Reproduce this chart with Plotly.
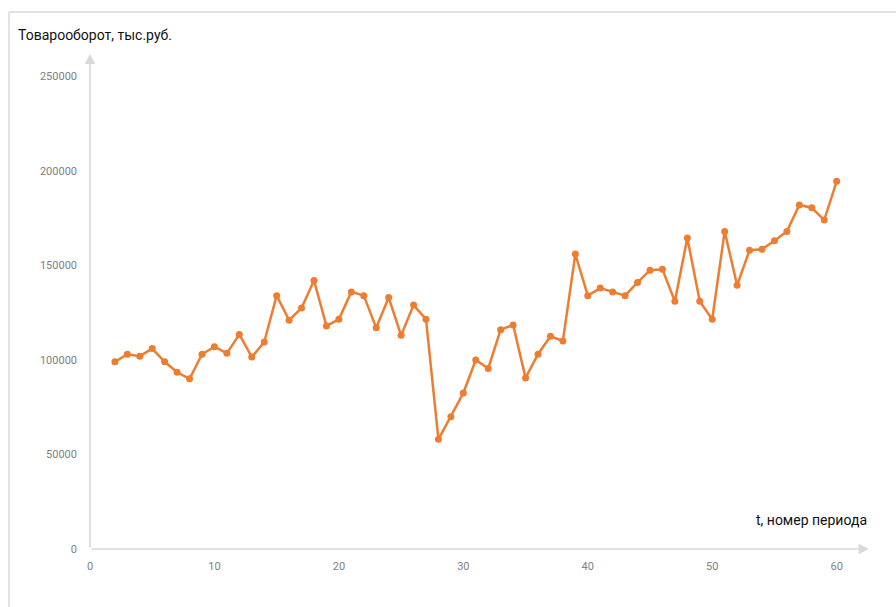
import plotly.graph_objects as go

periods = list(range(2, 61))
turnover = [99000, 103000, 102000, 106000, 99000, 93500, 90000, 103000, 107000, 103500,
            113500, 101500, 109500, 134000, 121000, 127500, 142000, 118000, 121500, 136000,
            134000, 117000, 133000, 113000, 129000, 121500, 58000, 70000, 82500, 100000,
            95500, 116000, 118500, 90500, 103000, 112500, 110000, 156000, 134000, 138000,
            136000, 134000, 141000, 147500, 148000, 131000, 164500, 131000, 121500, 168000,
            139500, 158000, 158500, 163000, 168000, 182000, 180500, 174000, 194500]
x_ticks = [0, 10, 20, 30, 40, 50, 60]
y_ticks = [0, 50000, 100000, 150000, 200000, 250000]
y_title = "Товарооборот, тыс.руб."
x_title = "t, номер периода"

axis_gray = "#d9d9d9"
tick_font = dict(family="Roboto, Arial, sans-serif", size=11, color="#808080")

fig = go.Figure()
fig.add_trace(go.Scatter(
    x=periods, y=turnover, mode="lines+markers",
    line=dict(color="#ED7D31", width=2.5),
    marker=dict(color="#ED7D31", size=7),
    hoverinfo="x+y", showlegend=False,
))

fig.update_layout(
    width=896, height=607,
    margin=dict(l=90, r=22, t=48, b=58),
    paper_bgcolor="white", plot_bgcolor="white",
    xaxis=dict(range=[0, 63], tickvals=x_ticks, showgrid=False, zeroline=False,
               showline=False, tickfont=tick_font, ticks="", ticklabelstandoff=9),
    yaxis=dict(range=[0, 265000], tickvals=y_ticks, showgrid=False, zeroline=False,
               showline=False, tickfont=tick_font, ticks="", ticklabelstandoff=12,
               tickformat="d"),
    font=dict(family="Roboto, Arial, sans-serif"),
)

# axes with arrows
fig.add_annotation(x=62.6, y=0, ax=0, ay=0, xref="x", yref="y", axref="x", ayref="y",
                   showarrow=True, arrowhead=2, arrowsize=1.3, arrowwidth=1.6,
                   arrowcolor=axis_gray, text="")
fig.add_annotation(x=0, y=262000, ax=0, ay=0, xref="x", yref="y", axref="x", ayref="y",
                   showarrow=True, arrowhead=2, arrowsize=1.3, arrowwidth=1.6,
                   arrowcolor=axis_gray, text="")

# titles
fig.add_annotation(text=y_title, xref="paper", yref="paper", x=-0.094, y=1.026,
                   xanchor="left", yanchor="middle", showarrow=False,
                   font=dict(size=14, color="#111111"))
fig.add_annotation(text=x_title, xref="x", yref="y", x=62.6, y=15500,
                   xanchor="right", yanchor="middle", showarrow=False,
                   font=dict(size=14, color="#111111"))

# frame (top and left borders)
fig.add_shape(type="line", xref="paper", yref="paper", x0=-0.1033, x1=1.03, y0=1.0719, y1=1.0719,
              line=dict(color=axis_gray, width=1.5), layer="below")
fig.add_shape(type="line", xref="paper", yref="paper", x0=-0.1033, x1=-0.1033, y0=-0.12, y1=1.0719,
              line=dict(color=axis_gray, width=1.5), layer="below")

fig.write_html("out.html")
